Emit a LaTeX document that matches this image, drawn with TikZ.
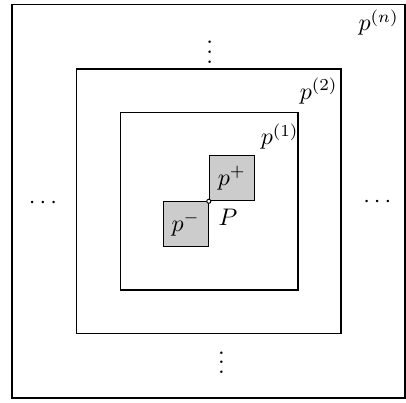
\documentclass[tikz,border=0pt]{standalone}
\usetikzlibrary{positioning}
\tikzstyle{ring} = [
    rectangle,
    draw=black,
    semithick,
    inner sep=0pt
]
\tikzstyle{cell} = [
    rectangle,
    minimum size=0.66cm,
    inner sep=0pt,
    fill=gray!40,
    draw=black
]
\tikzstyle{joint} = [
    circle,
    minimum size=0.06cm,
    inner sep=0pt,
    fill=white,
    draw=black
]
\begin{document}
\begin{tikzpicture}
\useasboundingbox (-3.06,-2.95) rectangle (2.89,2.95);

\node (ringn) [ring, minimum size=5.76cm] at (-0.005,0) {};
\node (ring2) [ring, minimum size=3.88cm] at (0,0) {};
\node (ring1) [ring, minimum size=2.6cm] at (0.01,0) {};

\coordinate (P) at (0,0);
\node (pplus) [cell, anchor=south west] at (P) {$p^+$};
\node (pminus) [cell, anchor=north east] at (P) {$p^-$};
\node (joint) [joint] at (P) {};
\node (Plabel) at (0.28,-0.24) {$P$};

\node (tag1) at (1.04,0.95) {$p^{(1)}$};
\node (tag2) at (1.61,1.62) {$p^{(2)}$};
\node (tagn) at (2.49,2.62) {$p^{(n)}$};

\node (vdotsup) at (0.015,2.29) {$\vdots$};
\node (vdotsdown) at (0.186,-2.26) {$\vdots$};
\node (cdotsleft) at (-2.43,-0.03) {$\cdots$};
\node (cdotsright) at (2.47,-0.01) {$\cdots$};

\end{tikzpicture}
\end{document}
